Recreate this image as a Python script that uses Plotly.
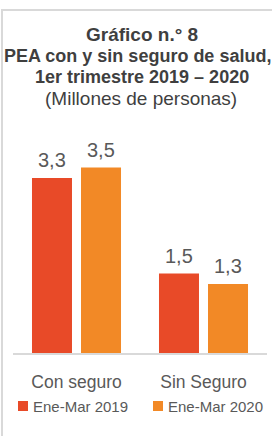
import plotly.graph_objects as go

categories = ["Con seguro", "Sin Seguro"]
series_names = ["Ene-Mar 2019", "Ene-Mar 2020"]
values_2019 = [3.3, 1.5]
values_2020 = [3.5, 1.3]
labels_2019 = ["3,3", "1,5"]
labels_2020 = ["3,5", "1,3"]
title_lines = ["Gráfico n.° 8", "PEA con y sin seguro de salud,", "1er trimestre 2019 – 2020", "(Millones de personas)"]

RED = "#E84A28"
ORANGE = "#F28926"
TXT = "#595959"
TITLE = "#3F3F3F"
BORDER = "#D9D9D9"
FONT = "Liberation Sans, Arial, sans-serif"

W, H = 272, 436
L, R, T, B = 13, 5, 120, 83
PW, PH = W - L - R, H - T - B


def px2x(px):
    return (px - L) / PW


def py2y(py):
    return (H - B - py) / PH


fig = go.Figure()
for name, vals, labs, col in [(series_names[0], values_2019, labels_2019, RED),
                              (series_names[1], values_2020, labels_2020, ORANGE)]:
    fig.add_trace(go.Bar(x=categories, y=vals, name=name, marker=dict(color=col, line=dict(width=0)),
                         text=labs, textposition="none", showlegend=False, hoverinfo="skip"))

# value labels as annotations above bars
annotations = []
for vals, labs, shift in [(values_2019, labels_2019, -24.5), (values_2020, labels_2020, 24.5)]:
    for c, v, lab in zip(categories, vals, labs):
        annotations.append(dict(x=c, y=v, xref="x", yref="y", text=lab, showarrow=False,
                                xanchor="center", yanchor="bottom", xshift=shift, yshift=5,
                                font=dict(family=FONT, size=20, color=TXT)))

# title
title_specs = [(title_lines[0], 142, 35, 19, True), (title_lines[1], 137, 56, 18, True),
               (title_lines[2], 142, 77, 18, True), (title_lines[3], 141, 98, 19, False)]
for txt, px, py, size, bold in title_specs:
    annotations.append(dict(x=px2x(px), y=py2y(py), xref="paper", yref="paper",
                            text=f"<b>{txt}</b>" if bold else txt, showarrow=False,
                            xanchor="center", yanchor="middle",
                            font=dict(family=FONT, size=size, color=TITLE)))

# legend (manual)
shapes = []
for name, col, sq_left in [(series_names[0], RED, 18), (series_names[1], ORANGE, 153)]:
    shapes.append(dict(type="rect", xref="paper", yref="paper",
                       x0=px2x(sq_left), x1=px2x(sq_left + 10), y0=py2y(411), y1=py2y(401),
                       fillcolor=col, line=dict(width=0)))
    annotations.append(dict(x=px2x(sq_left + 13), y=py2y(406.5), xref="paper", yref="paper",
                            text=name, showarrow=False, xanchor="left", yanchor="middle",
                            font=dict(family=FONT, size=15, color=TXT)))

# frame border (left and top)
shapes.append(dict(type="line", xref="paper", yref="paper", x0=px2x(2), x1=px2x(2),
                   y0=py2y(9), y1=py2y(440), line=dict(color=BORDER, width=2)))
shapes.append(dict(type="line", xref="paper", yref="paper", x0=px2x(1), x1=px2x(275),
                   y0=py2y(10), y1=py2y(10), line=dict(color=BORDER, width=2)))

fig.update_layout(
    width=W, height=H, margin=dict(l=L, r=R, t=T, b=B, pad=0),
    paper_bgcolor="white", plot_bgcolor="white",
    barmode="group", bargap=0.228, bargroupgap=0.184,
    showlegend=False,
    annotations=annotations, shapes=shapes,
    xaxis=dict(showline=True, linecolor=BORDER, linewidth=2, showgrid=False, zeroline=False,
               ticks="", ticklabelstandoff=12,
               tickfont=dict(family=FONT, size=17.5, color=TXT)),
    yaxis=dict(range=[0, PH / 53.0], visible=False, showgrid=False, zeroline=False),
)

fig.write_html("out.html", config={"displayModeBar": False},
               post_script="document.body.style.margin='0';document.body.style.overflow='hidden';")
